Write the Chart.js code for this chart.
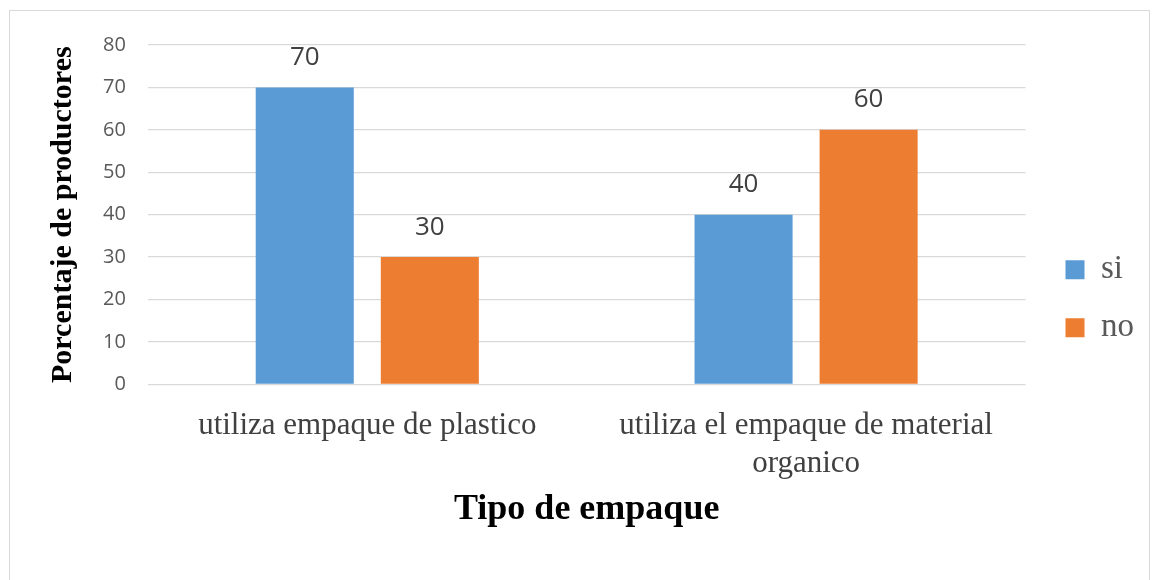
<!DOCTYPE html>
<html>
<head>
<meta charset="utf-8">
<script src="https://cdn.jsdelivr.net/npm/chart.js@4.4.0/dist/chart.umd.min.js"></script>
<style>
  html, body { margin: 0; padding: 0; background: #fff; }
  #frame { position: absolute; left: 9px; top: 10px; width: 1141px; height: 600px; border: 1px solid #d9d9d9; box-sizing: border-box; }
  #wrap { position: absolute; left: 0; top: 0; width: 1157px; height: 580px; }
</style>
</head>
<body>
<div id="frame"></div>
<div id="wrap"><canvas id="chart"></canvas></div>
<script>
const categories = [["utiliza empaque de plastico"], ["utiliza el empaque de material", "organico"]];
const siValues = [70, 40];
const noValues = [30, 60];
const yTicks = [0, 10, 20, 30, 40, 50, 60, 70, 80];

const valueLabels = {
  id: 'valueLabels',
  afterDatasetsDraw(chart) {
    const ctx = chart.ctx;
    ctx.save();
    ctx.font = '26px "Open Sans", sans-serif';
    ctx.fillStyle = '#404040';
    ctx.textAlign = 'center';
    ctx.textBaseline = 'middle';
    chart.data.datasets.forEach((ds, i) => {
      chart.getDatasetMeta(i).data.forEach((bar, j) => {
        ctx.fillText(ds.data[j], bar.x, bar.y - 30);
      });
    });
    ctx.restore();
  }
};

new Chart(document.getElementById('chart'), {
  type: 'bar',
  data: {
    labels: categories,
    datasets: [
      { label: 'si', data: siValues, backgroundColor: '#5b9bd5', categoryPercentage: 0.57, barPercentage: 0.784 },
      { label: 'no', data: noValues, backgroundColor: '#ed7d31', categoryPercentage: 0.57, barPercentage: 0.784 }
    ]
  },
  options: {
    responsive: true,
    maintainAspectRatio: false,
    animation: false,
    layout: { padding: { left: 48, top: 45, right: 13, bottom: 52 } },
    plugins: {
      tooltip: { enabled: false },
      legend: {
        position: 'right',
        title: { display: true, text: ' ', padding: 5, font: { size: 12 } },
        labels: {
          boxWidth: 19,
          boxHeight: 19,
          padding: 25,
          color: '#595959',
          font: { family: '"Liberation Serif", serif', size: 33 }
        }
      }
    },
    scales: {
      y: {
        min: 0,
        max: 80,
        afterBuildTicks(axis) { axis.ticks = yTicks.map(v => ({ value: v })); },
        grid: { color: '#d9d9d9', lineWidth: 1.3, drawTicks: false },
        border: { display: false },
        ticks: { color: '#595959', padding: 22, font: { family: '"Open Sans", sans-serif', size: 20 } },
        title: {
          display: true,
          text: 'Porcentaje de productores',
          color: '#000',
          padding: { top: 0, bottom: 3 },
          font: { family: '"Liberation Serif", serif', size: 30, weight: 'bold', lineHeight: 1 }
        }
      },
      gap: {
        position: 'right',
        display: true,
        grid: { display: false },
        border: { display: false },
        ticks: { display: false },
        afterFit(scale) { scale.width = 15; }
      },
      x: {
        grid: { display: false },
        border: { display: false },
        ticks: { color: '#404040', padding: 15, font: { family: '"Liberation Serif", serif', size: 31, lineHeight: 1.22 } },
        title: {
          display: true,
          text: 'Tipo de empaque',
          color: '#000',
          padding: { top: -6, bottom: 0 },
          font: { family: '"Liberation Serif", serif', size: 36, weight: 'bold', lineHeight: 1 }
        }
      }
    }
  },
  plugins: [valueLabels]
});
</script>
</body>
</html>
